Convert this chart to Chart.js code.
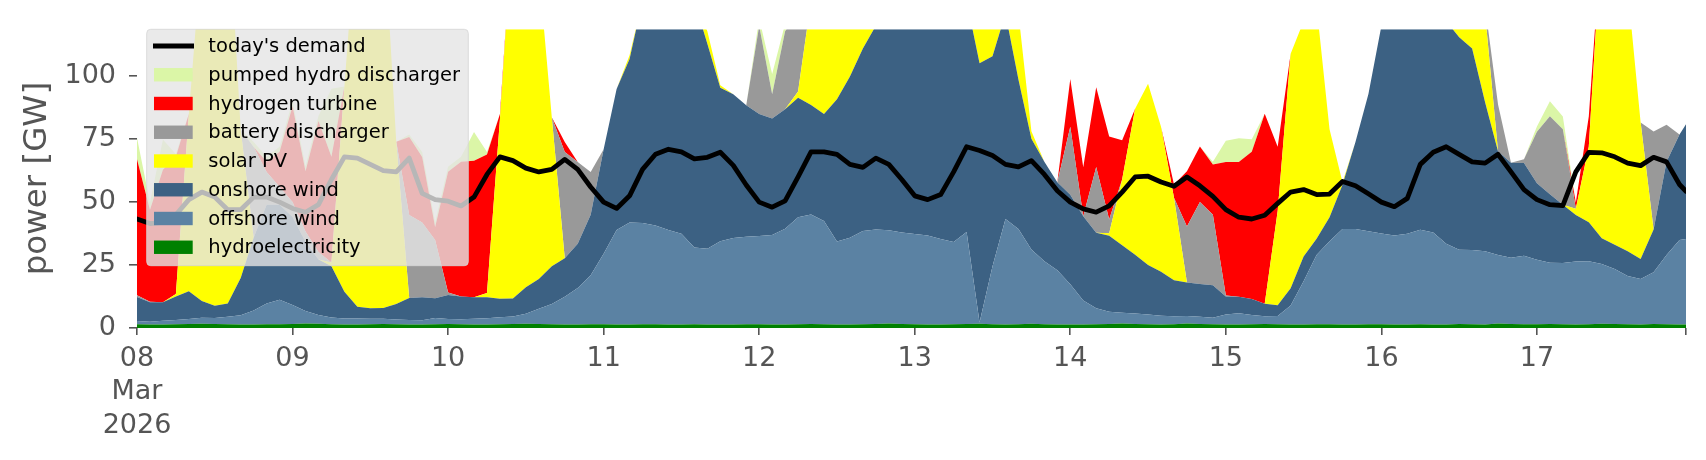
<!DOCTYPE html>
<html>
<head>
<meta charset="utf-8">
<script src="https://cdn.jsdelivr.net/npm/chart.js@4.4.1/dist/chart.umd.min.js"></script>
<style>
  html, body { margin: 0; padding: 0; background: #ffffff; }
  canvas { display: block; }
</style>
</head>
<body>
<canvas id="powerChart" width="1706" height="460"></canvas>
<script>
// one sample every 2 hours from 08 Mar 00:00, last sample at 17 Mar 23:00
const STEP_HOURS = 2;
const hours = Array.from({ length: 120 }, (_, i) => i * STEP_HOURS).concat([239]);

const DAY_TICKS = ['08', '09', '10', '11', '12', '13', '14', '15', '16', '17'];
const FIRST_TICK = ['08', 'Mar', '2026'];
const Y_TICKS = [0, 25, 50, 75, 100];
const Y_MAX = 118.7;

// GW, one row per day
const hydroelectricity = [
  1.5, 1.4, 1.4, 1.5, 1.6, 1.7, 1.6, 1.5, 1.4, 1.4, 1.5, 1.5,
  1.6, 1.8, 1.7, 1.5, 1.4, 1.4, 1.5, 1.6, 1.5, 1.4, 1.4, 1.5,
  1.6, 1.5, 1.4, 1.4, 1.5, 1.6, 1.7, 1.6, 1.5, 1.4, 1.4, 1.5,
  1.5, 1.4, 1.4, 1.5, 1.5, 1.4, 1.4, 1.5, 1.4, 1.4, 1.4, 1.5,
  1.5, 1.4, 1.4, 1.5, 1.6, 1.5, 1.4, 1.4, 1.5, 1.6, 1.8, 1.6,
  1.5, 1.4, 1.4, 1.5, 1.6, 1.7, 1.5, 1.4, 1.5, 1.7, 1.5, 1.4,
  1.4, 1.4, 1.5, 1.6, 1.8, 1.6, 1.5, 1.4, 1.5, 1.8, 1.6, 1.5,
  1.4, 1.4, 1.5, 1.6, 1.5, 1.4, 1.4, 1.5, 1.5, 1.4, 1.4, 1.5,
  1.5, 1.4, 1.4, 1.5, 1.4, 1.4, 1.6, 1.5, 1.4, 1.8, 1.6, 1.5,
  1.5, 1.6, 1.5, 1.4, 1.5, 1.7, 1.6, 1.5, 1.4, 1.6, 1.5, 1.4, 1.4
];

const offshoreWind = [
  1.3, 1.1, 1.5, 1.7, 2.0, 2.4, 2.4, 3.0, 3.7, 5.6, 8.2, 9.7,
  7.5, 5.0, 3.5, 2.7, 2.4, 2.4, 2.2, 2.1, 1.9, 1.8, 1.7, 2.5,
  2.0, 2.0, 2.3, 2.5, 2.8, 3.0, 4.0, 6.0, 8.0, 11.0, 14.5, 19.5,
  28.0, 37.5, 40.5, 40.2, 39.2, 37.5, 36.0, 30.5, 30.1, 33.1, 34.4, 34.7,
  35.0, 35.5, 38.0, 42.5, 43.5, 41.0, 33.0, 34.5, 37.0, 37.5, 37.0, 36.3,
  35.8, 35.3, 34.0, 32.7, 36.5, 0.5, 23.0, 41.9, 37.8, 29.5, 25.0, 21.5,
  16.0, 9.5, 6.3, 4.9, 4.3, 4.2, 3.9, 3.5, 3.2, 3.0, 2.9, 2.6,
  4.0, 4.5, 3.7, 3.1, 3.3, 7.5, 17.2, 27.5, 33.0, 37.9, 37.9, 36.9,
  36.0, 35.3, 36.0, 37.5, 36.5, 32.1, 29.5, 29.5, 29.1, 27.2, 26.3, 27.2,
  25.6, 24.3, 24.3, 25.0, 25.0, 23.7, 21.8, 19.2, 18.1, 20.5, 27.5, 33.6, 34.0
];

const onshoreWind = [
  9.5, 7.7, 7.3, 9.3, 11.0, 6.6, 4.8, 5.2, 14.8, 28.9, 39.3, 37.8,
  35.0, 27.5, 22.0, 20.3, 10.6, 4.6, 4.1, 4.2, 6.1, 8.7, 9.1, 7.8,
  9.5, 9.0, 8.5, 8.3, 7.3, 7.1, 10.5, 11.9, 15.0, 15.3, 17.6, 24.0,
  41.5, 56.0, 65.0, 88.3, 94.3, 96.0, 97.5, 98.0, 81.4, 60.9, 57.1, 52.3,
  48.5, 46.3, 47.5, 47.5, 43.5, 42.5, 56.5, 64.0, 72.5, 81.0, 89.5, 92.2,
  92.7, 93.2, 94.5, 95.8, 92.0, 103.0, 83.5, 81.6, 59.4, 44.0, 39.5, 35.0,
  35.5, 33.5, 30.0, 30.1, 26.8, 23.3, 19.6, 17.4, 14.3, 13.3, 13.0, 12.9,
  7.1, 6.5, 6.3, 4.9, 4.2, 6.9, 9.8, 6.5, 9.5, 17.6, 34.6, 54.6,
  82.5, 91.2, 94.5, 96.0, 97.0, 88.4, 84.4, 80.0, 59.2, 41.1, 37.7, 36.8,
  30.4, 27.2, 23.2, 18.5, 15.5, 10.3, 9.7, 9.8, 7.9, 17.0, 37.0, 41.9, 45.5
];

const solarPV = [
  0, 0, 0, 1.0, 70.5, 139.5, 151.3, 160.3, 59.0, 0, 0, 0,
  0, 0, 0, 1.5, 81.5, 156.5, 167.2, 155.2, 64.5, 0, 0, 0,
  0, 0, 0, 1.7, 71.4, 150.4, 144.0, 122.6, 59.2, 0, 0, 0,
  0, 0, 1.5, 0, 0, 0, 0, 0, 5.0, 1.0, 0, 0,
  0, 0, 0, 2.5, 41.5, 50.0, 44.0, 35.0, 19.0, 5.0, 0, 0,
  0, 0, 0, 0, 0, 20.0, 17.0, 3.0, 26.3, 3.0, 0, 0,
  0, 0, 0, 1.0, 26.1, 58.0, 72.0, 57.6, 32.7, 0, 0, 0,
  0, 0, 0, 0, 37.5, 93.1, 93.5, 92.5, 35.0, 1.0, 0, 0,
  0, 0, 0, 0, 0, 0, 9.6, 14.0, 35.2, 0, 0, 0,
  0, 0, 0, 2.5, 30.0, 121.5, 117.0, 104.5, 54.2, 0, 0, 0, 0
];

const batteryDischarger = [
  0.7, 0.2, 0, 0, 0, 0, 0, 0, 0, 36.0, 13.0, 7.0,
  6.0, 4.0, 3.0, 0, 0, 0, 0, 0, 0, 33.0, 29.7, 23.2,
  1.0, 0, 0, 0, 0, 0, 0, 0, 0, 42.2, 32.4, 17.0,
  0, 0, 0, 0, 0, 0, 0, 0, 0, 0, 0, 0,
  35.0, 9.7, 31.0, 31.0, 0, 0, 0, 0, 0, 0, 0, 0,
  0, 0, 0, 0, 0, 0, 0, 0, 0, 0, 0, 0,
  27.0, 0, 26.2, 5.5, 0, 0, 0, 0, 0, 22.2, 32.6, 28.0,
  0.4, 0, 0, 0, 0, 0, 0, 0, 0, 0, 0, 0,
  0, 0, 0, 0, 0, 0, 0, 0, 3.0, 18.7, 0, 1.5,
  20.5, 31.0, 30.0, 0, 0, 0, 0, 0, 0, 39.0, 14.7, 0, 0
];

const hydrogenTurbine = [
  54.0, 36.5, 52.7, 54.5, 0, 0, 0, 0, 0, 0, 4.0, 14.0,
  38.0, 24.0, 52.0, 42.0, 0, 0, 0, 0, 0, 31.0, 26.0, 5.0,
  48.0, 53.5, 54.2, 55.0, 2.0, 0, 0, 0, 0, 4.0, 0, 0,
  0, 0, 0, 0, 0, 0, 0, 0, 0, 0, 0, 0,
  0, 0, 0, 0, 0, 0, 0, 0, 0, 0, 0, 0,
  0, 0, 0, 0, 0, 0, 0, 0, 0, 0, 0, 0,
  19.0, 19.5, 31.6, 33.0, 15.6, 0, 0, 0, 5.3, 22.0, 22.0, 20.0,
  53.0, 53.5, 58.5, 75.5, 25.5, 0, 0, 0, 0, 0, 0, 0,
  0, 0, 0, 0, 0, 0, 0, 0, 0, 0, 0, 0,
  0, 0, 0, 2.5, 12.0, 0, 0, 0, 0, 0, 0, 0, 0
];

const pumpedHydroDischarger = [
  8.6, 3.0, 12.0, 1.0, 0, 0, 0, 0, 0, 2.0, 2.0, 2.0,
  2.0, 2.0, 2.0, 27.0, 0, 0, 0, 0, 0, 1.0, 2.0, 2.0,
  2.0, 2.0, 11.5, 1.0, 0, 0, 0, 0, 0, 0, 0, 0,
  0, 0, 0, 0, 0, 0, 0, 0, 0, 0, 0, 0,
  3.0, 8.0, 3.0, 1.0, 0, 0, 0, 0, 0, 0, 0, 0,
  0, 0, 0, 0, 0, 0, 0, 0, 0, 0, 0, 0,
  0, 0, 0, 0, 0, 0, 0, 0, 0, 0, 0, 1.0,
  8.5, 9.5, 5.0, 0, 0, 0, 0, 0, 0, 0, 0, 0,
  0, 0, 0, 0, 0, 0, 0, 0, 0, 0, 0, 0,
  2.0, 6.0, 5.0, 0, 0, 0, 0, 0, 0, 0, 0, 0, 0
];

const todaysDemand = [
  43.3, 41.5, 42.0, 45.0, 51.0, 54.0, 52.0, 47.0, 47.0, 52.0, 52.0, 50.0,
  47.5, 46.0, 49.0, 59.0, 68.0, 67.5, 65.0, 62.5, 62.0, 67.5, 53.5, 51.0,
  50.4, 48.5, 52.0, 61.0, 68.0, 66.5, 63.5, 62.0, 63.0, 67.0, 63.0, 56.0,
  50.0, 47.5, 52.5, 63.0, 69.0, 71.0, 70.0, 67.2, 67.8, 69.8, 64.6, 56.8,
  50.0, 48.0, 50.5, 60.0, 70.0, 70.0, 69.0, 65.0, 63.8, 67.5, 65.0, 59.0,
  52.5, 51.0, 53.0, 62.0, 72.0, 70.5, 68.5, 65.0, 64.0, 66.5, 61.0, 54.5,
  50.0, 47.3, 46.0, 48.5, 54.0, 60.0, 60.3, 58.0, 56.3, 60.0, 56.5, 52.3,
  47.0, 44.0, 43.3, 44.8, 49.5, 54.0, 55.0, 53.0, 53.2, 58.2, 56.5, 53.3,
  50.0, 48.2, 51.5, 65.0, 69.8, 72.0, 69.0, 66.0, 65.5, 69.0, 62.0, 55.0,
  51.0, 49.0, 48.6, 62.0, 69.8, 69.6, 68.0, 65.5, 64.5, 67.8, 66.0, 57.0, 54.3
];

// bottom of the stack first
const SERIES = [
  { label: 'hydroelectricity', values: hydroelectricity, color: '#008000' },
  { label: 'offshore wind', values: offshoreWind, color: '#5b82a3' },
  { label: 'onshore wind', values: onshoreWind, color: '#3c6183' },
  { label: 'solar PV', values: solarPV, color: '#ffff00' },
  { label: 'battery discharger', values: batteryDischarger, color: '#999999' },
  { label: 'hydrogen turbine', values: hydrogenTurbine, color: '#ff0000' },
  { label: 'pumped hydro discharger', values: pumpedHydroDischarger, color: '#dbf6a7' }
];
const DEMAND_LABEL = "today's demand";

const FONT = 'DejaVu Sans';
const AXIS_GREY = '#555555';

function toPoints(values) {
  return values.map((v, i) => ({ x: hours[i], y: v }));
}

const datasets = SERIES.map((s, i) => ({
  label: s.label,
  data: toPoints(s.values),
  backgroundColor: s.color,
  borderColor: 'rgba(0,0,0,0)',
  borderWidth: 0,
  pointRadius: 0,
  fill: i === 0 ? 'origin' : '-1',
  stack: 'supply',
  order: 1
}));

datasets.push({
  label: DEMAND_LABEL,
  data: toPoints(todaysDemand),
  borderColor: '#000000',
  borderWidth: 4.8,
  borderJoinStyle: 'round',
  borderCapStyle: 'round',
  pointRadius: 0,
  fill: false,
  stack: 'demand',
  order: 0
});

function roundedRect(ctx, x, y, w, h, r) {
  ctx.beginPath();
  ctx.moveTo(x + r, y);
  ctx.lineTo(x + w - r, y);
  ctx.quadraticCurveTo(x + w, y, x + w, y + r);
  ctx.lineTo(x + w, y + h - r);
  ctx.quadraticCurveTo(x + w, y + h, x + w - r, y + h);
  ctx.lineTo(x + r, y + h);
  ctx.quadraticCurveTo(x, y + h, x, y + h - r);
  ctx.lineTo(x, y + r);
  ctx.quadraticCurveTo(x, y, x + r, y);
  ctx.closePath();
}

// legend drawn over the plot with a see-through box, plus the y axis title
const overlayLegend = {
  id: 'overlayLegend',
  afterDraw(chart) {
    const ctx = chart.ctx;
    const area = chart.chartArea;
    ctx.save();

    roundedRect(ctx, 146.7, 29.3, 321.6, 236.4, 4);
    ctx.fillStyle = 'rgba(229,229,229,0.8)';
    ctx.fill();
    ctx.strokeStyle = 'rgba(214,214,214,0.8)';
    ctx.lineWidth = 1;
    ctx.stroke();

    const items = [{ label: DEMAND_LABEL, line: true }]
      .concat(SERIES.slice().reverse().map(s => ({ label: s.label, color: s.color })));

    ctx.font = '19.5px "' + FONT + '"';
    ctx.textAlign = 'left';
    ctx.textBaseline = 'middle';
    items.forEach((item, i) => {
      const y = 46 + i * 28.75;
      if (item.line) {
        ctx.strokeStyle = '#000000';
        ctx.lineWidth = 5;
        ctx.beginPath();
        ctx.moveTo(153, y);
        ctx.lineTo(194, y);
        ctx.stroke();
      } else {
        ctx.fillStyle = item.color;
        ctx.fillRect(154, y - 6.7, 38.7, 13.4);
      }
      ctx.fillStyle = '#000000';
      ctx.fillText(item.label, 208.3, y + 1);
    });

    ctx.translate(38, (area.top + area.bottom) / 2);
    ctx.rotate(-Math.PI / 2);
    ctx.font = '32.5px "' + FONT + '"';
    ctx.fillStyle = AXIS_GREY;
    ctx.textAlign = 'center';
    ctx.textBaseline = 'middle';
    ctx.fillText('power [GW]', 0, 0);
    ctx.restore();
  }
};

const powerChart = new Chart(document.getElementById('powerChart'), {
  type: 'line',
  data: { datasets: datasets },
  options: {
    responsive: false,
    animation: false,
    devicePixelRatio: 1,
    events: [],
    layout: { padding: { left: 0, right: 20, top: 22, bottom: 0 } },
    elements: { line: { tension: 0 } },
    plugins: {
      legend: { display: false },
      tooltip: { enabled: false }
    },
    scales: {
      x: {
        type: 'linear',
        min: 0,
        max: 239,
        afterBuildTicks: scale => {
          const ticks = DAY_TICKS.map((_, i) => ({ value: i * 24 }));
          ticks.push({ value: 239 });
          scale.ticks = ticks;
        },
        afterFit: scale => { scale.height = 132; },
        ticks: {
          autoSkip: false,
          maxRotation: 0,
          padding: 7,
          color: AXIS_GREY,
          font: { family: FONT, size: 27, lineHeight: 1.24 },
          callback: value => {
            if (value % 24 !== 0) return '';
            const i = value / 24;
            return i === 0 ? FIRST_TICK : DAY_TICKS[i];
          }
        },
        grid: { drawOnChartArea: false, drawTicks: true, tickLength: 7, color: AXIS_GREY, lineWidth: 1.6 },
        border: { display: false }
      },
      y: {
        stacked: true,
        min: 0,
        max: Y_MAX,
        afterBuildTicks: scale => {
          scale.ticks = Y_TICKS.map(v => ({ value: v }));
        },
        afterFit: scale => { scale.width = 137; },
        ticks: {
          padding: 13,
          color: AXIS_GREY,
          font: { family: FONT, size: 27 }
        },
        grid: { drawOnChartArea: false, drawTicks: true, tickLength: 8, color: AXIS_GREY, lineWidth: 1.6 },
        border: { display: false }
      }
    }
  },
  plugins: [overlayLegend]
});
</script>
</body>
</html>
